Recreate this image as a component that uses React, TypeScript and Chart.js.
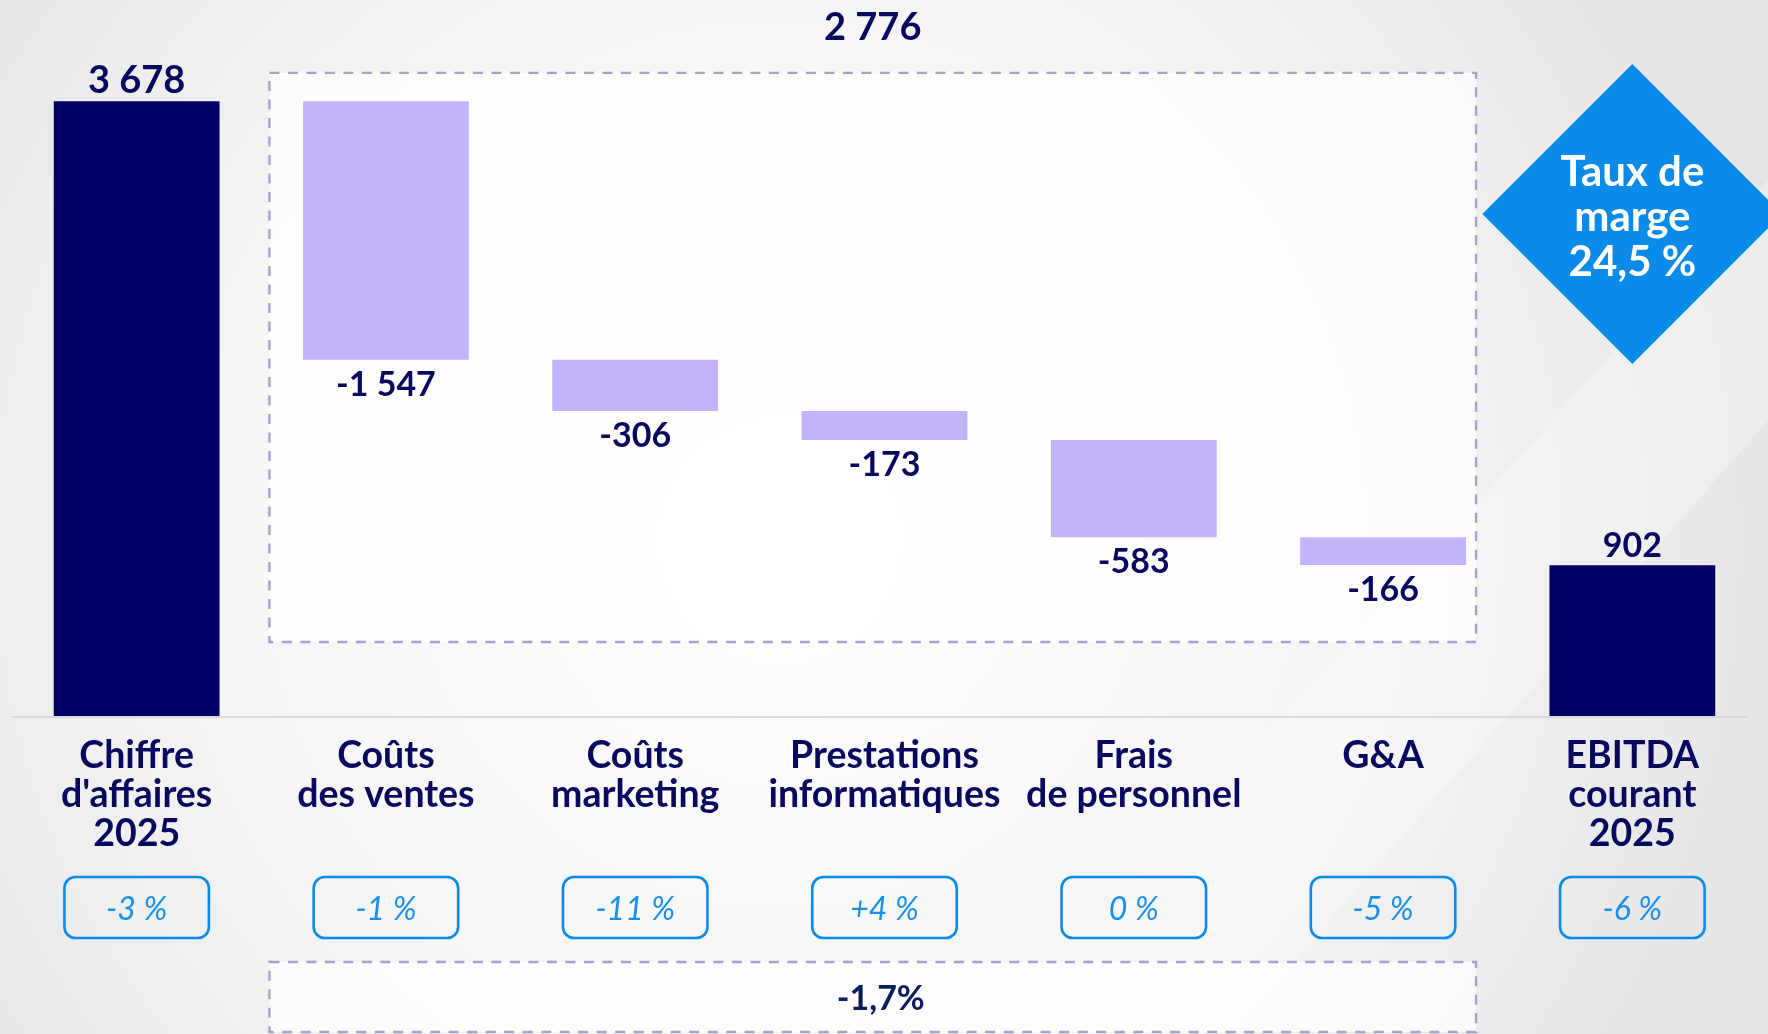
import React, { useEffect, useRef } from "react";
import { Chart, registerables } from "chart.js";

Chart.register(...registerables);

// ---- data ----
const categories: string[][] = [
  ["Chiffre", "d'affaires", "2025"],
  ["Coûts", "des ventes"],
  ["Coûts", "marketing"],
  ["Prestations", "informatiques"],
  ["Frais", "de personnel"],
  ["G&A"],
  ["EBITDA", "courant", "2025"],
];
const amounts = [3678, -1547, -306, -173, -583, -166, 902];
const isTotal = [true, false, false, false, false, false, true];
const valueLabels = ["3 678", "-1 547", "-306", "-173", "-583", "-166", "902"];
const changeLabels = ["-3 %", "-1 %", "-11 %", "+4 %", "0 %", "-5 %", "-6 %"];
const subtotalLabel = "2 776";
const subtotalChange = "-1,7%";
const marginLines = ["Taux de", "marge", "24,5 %"];

// floating bar ranges built from the amounts
const ranges: number[][] = (() => {
  let running = 0;
  return amounts.map((a, i) => {
    if (isTotal[i]) {
      running = a;
      return [0, a];
    }
    const start = running;
    running += a;
    return [start, running];
  });
})();

const W = 1768;
const H = 1034;
const NAVY = "#08095e";
const BLUE = "#0a8be9";
const FONT = "Lato, 'Open Sans', sans-serif";

function dashedBox(ctx: CanvasRenderingContext2D, l: number, t: number, r: number, b: number) {
  ctx.save();
  ctx.fillStyle = "rgba(255,255,255,0.75)";
  ctx.fillRect(l, t, r - l, b - t);
  ctx.setLineDash([10, 8.5]);
  ctx.lineWidth = 2.4;
  ctx.strokeStyle = "#a6a2cc";
  ctx.strokeRect(l, t, r - l, b - t);
  ctx.restore();
}

const decoPlugin = {
  id: "deco",
  beforeDraw(chart: any) {
    const ctx: CanvasRenderingContext2D = chart.ctx;
    const area = chart.chartArea;
    const xs = chart.scales.x;
    const ys = chart.scales.y;
    ctx.save();
    // background
    ctx.fillStyle = "#e6e6e6";
    ctx.fillRect(0, 0, W, H);
    const rg = ctx.createRadialGradient(780, 540, 50, 780, 540, 1000);
    rg.addColorStop(0, "rgba(255,255,255,0.95)");
    rg.addColorStop(0.55, "rgba(255,255,255,0.6)");
    rg.addColorStop(1, "rgba(255,255,255,0)");
    ctx.fillStyle = rg;
    ctx.fillRect(0, 0, W, H);
    // diagonal light band bottom-right
    ctx.beginPath();
    ctx.moveTo(1000, H);
    ctx.lineTo(1768, 180);
    ctx.lineTo(1768, 420);
    ctx.lineTo(1230, H);
    ctx.closePath();
    ctx.fillStyle = "rgba(255,255,255,0.25)";
    ctx.fill();

    // dashed group boxes
    const l = xs.getPixelForValue(1) - 116.5;
    const r = xs.getPixelForValue(5) + 93;
    const top = ys.getPixelForValue(amounts[0]) - 28.5;
    dashedBox(ctx, l, top, r, area.bottom - 74);
    dashedBox(ctx, l, 962, r, 1032);

    // baseline
    ctx.beginPath();
    ctx.moveTo(area.left, area.bottom + 1);
    ctx.lineTo(area.right - 10, area.bottom + 1);
    ctx.lineWidth = 2;
    ctx.strokeStyle = "#d9d9d9";
    ctx.stroke();
    ctx.restore();
  },
  afterDatasetsDraw(chart: any) {
    const ctx: CanvasRenderingContext2D = chart.ctx;
    const area = chart.chartArea;
    const xs = chart.scales.x;
    const meta = chart.getDatasetMeta(0);
    ctx.save();
    ctx.textAlign = "center";

    meta.data.forEach((bar: any, i: number) => {
      const cx = bar.x;
      const top = Math.min(bar.y, bar.base);
      const bottom = Math.max(bar.y, bar.base);
      ctx.fillStyle = NAVY;
      if (isTotal[i]) {
        ctx.font = `700 ${i === 0 ? 38 : 34}px ${FONT}`;
        ctx.textBaseline = "alphabetic";
        ctx.fillText(valueLabels[i], cx, top - 8);
      } else {
        ctx.font = `700 34px ${FONT}`;
        ctx.textBaseline = "middle";
        ctx.fillText(valueLabels[i], cx, bottom + 25);
      }

      // category label
      ctx.font = `700 37.5px ${FONT}`;
      ctx.textBaseline = "middle";
      categories[i].forEach((line, k) => {
        ctx.fillText(line, cx, area.bottom + 40 + k * 39);
      });

      // change box
      const bw = 144.5;
      const bh = 61;
      const by = 877;
      ctx.beginPath();
      (ctx as any).roundRect(cx - bw / 2, by, bw, bh, 11);
      ctx.lineWidth = 2.6;
      ctx.strokeStyle = BLUE;
      ctx.stroke();
      ctx.fillStyle = "#1a8fe9";
      ctx.font = `italic 400 32px ${FONT}`;
      ctx.fillText(changeLabels[i], cx, by + bh / 2 + 2);
    });

    // subtotal labels
    const l = xs.getPixelForValue(1) - 116.5;
    const r = xs.getPixelForValue(5) + 93;
    const mid = (l + r) / 2;
    ctx.fillStyle = NAVY;
    ctx.font = `700 38px ${FONT}`;
    ctx.textBaseline = "middle";
    ctx.fillText(subtotalLabel, mid, 28);
    ctx.font = `700 34px ${FONT}`;
    ctx.fillStyle = "#0c1b5c";
    ctx.fillText(subtotalChange, mid + 8, 999);

    // margin diamond
    const dx = xs.getPixelForValue(6);
    const dy = 214;
    const half = 150;
    ctx.beginPath();
    ctx.moveTo(dx, dy - half);
    ctx.lineTo(dx + half, dy);
    ctx.lineTo(dx, dy + half);
    ctx.lineTo(dx - half, dy);
    ctx.closePath();
    ctx.fillStyle = BLUE;
    ctx.fill();
    ctx.fillStyle = "#ffffff";
    ctx.font = `700 42px ${FONT}`;
    marginLines.forEach((line, k) => {
      ctx.fillText(line, dx, dy - 42 + k * 45);
    });
    ctx.restore();
  },
};

export default function App() {
  const ref = useRef<HTMLCanvasElement>(null);
  useEffect(() => {
    if (!ref.current) return;
    const chart = new Chart(ref.current, {
      type: "bar",
      data: {
        labels: categories.map((c) => c.join(" ")),
        datasets: [
          {
            data: ranges as any,
            backgroundColor: isTotal.map((t) => (t ? "#000066" : "#c3b4fa")),
            borderWidth: 0,
            borderSkipped: false,
            barPercentage: 0.665,
            categoryPercentage: 1,
          },
        ],
      },
      options: {
        responsive: false,
        devicePixelRatio: 1,
        animation: false,
        events: [],
        layout: { padding: { left: 12, right: 11, top: 716 - 4000 * 0.16712, bottom: 318 } },
        plugins: { legend: { display: false }, tooltip: { enabled: false } },
        scales: {
          x: { display: false, offset: true },
          y: { display: false, min: 0, max: 4000 },
        },
      },
      plugins: [decoPlugin],
    });
    return () => chart.destroy();
  }, []);
  return (
    <div style={{ position: "fixed", left: 0, top: 0, width: W, height: H }}>
      <canvas ref={ref} width={W} height={H} style={{ width: W, height: H, display: "block" }} />
    </div>
  );
}
